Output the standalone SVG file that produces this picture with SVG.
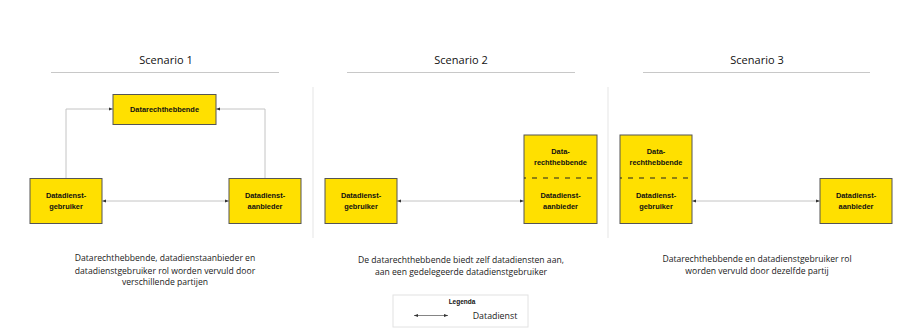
<svg xmlns="http://www.w3.org/2000/svg" width="914" height="330" viewBox="0 0 914 330">
<style>
.title{font-family:"Open Sans","Liberation Sans",sans-serif;font-size:11px;fill:#111;text-anchor:middle}
.cap{font-family:"Open Sans","Liberation Sans",sans-serif;font-size:8.6px;fill:#1a1a1a;text-anchor:middle}
.lbl{font-family:"Liberation Sans",Arial,sans-serif;font-size:7.4px;font-weight:bold;fill:#111;text-anchor:middle}
.box{fill:#FFE000;stroke:#555;stroke-width:1}
.rule{stroke:#c8c8c8;stroke-width:1}
.sep{stroke:#eeeeee;stroke-width:1.5}
.con{fill:none;stroke:#c4c4c4;stroke-width:1}
.dash{stroke:#222;stroke-width:1.1;stroke-dasharray:5 6}
</style>
<defs>
<marker id="ah" markerUnits="userSpaceOnUse" markerWidth="4" markerHeight="4" refX="4" refY="2" orient="auto-start-reverse">
<path d="M0,0.5 L4,2 L0,3.5 z" fill="#333"/>
</marker>
</defs>
<rect width="914" height="330" fill="#fff"/>

<g id="headers">
<text class="title" x="166" y="64">Scenario 1</text>
<line class="rule" x1="51" y1="72.5" x2="279" y2="72.5"/>
<text class="title" x="461" y="64">Scenario 2</text>
<line class="rule" x1="347" y1="72.5" x2="575" y2="72.5"/>
<text class="title" x="757" y="64">Scenario 3</text>
<line class="rule" x1="643" y1="72.5" x2="870" y2="72.5"/>
</g>

<g id="separators">
<line class="sep" x1="313" y1="87" x2="313" y2="238"/>
<line class="sep" x1="608" y1="87" x2="608" y2="238"/>
</g>

<g id="connectors">
<polyline class="con" points="66,178 66,109 113,109" marker-end="url(#ah)"/>
<polyline class="con" points="265,178 265,109 216,109" marker-end="url(#ah)"/>
<line class="con" x1="102" y1="201" x2="229" y2="201" marker-start="url(#ah)" marker-end="url(#ah)"/>
<line class="con" x1="397" y1="201" x2="524" y2="201" marker-start="url(#ah)" marker-end="url(#ah)"/>
<line class="con" x1="692" y1="201" x2="820" y2="201" marker-start="url(#ah)" marker-end="url(#ah)"/>
</g>

<g id="s1-datarechthebbende">
<rect class="box" x="113" y="94.5" width="103" height="30"/>
<text class="lbl" x="164.5" y="112">Datarechthebbende</text>
</g>
<g id="s1-gebruiker">
<rect class="box" x="30" y="178.5" width="72" height="45"/>
<text class="lbl" x="66" y="197.5">Datadienst-</text>
<text class="lbl" x="66" y="208.5">gebruiker</text>
</g>
<g id="s1-aanbieder">
<rect class="box" x="229" y="178.5" width="72" height="45"/>
<text class="lbl" x="265" y="197.5">Datadienst-</text>
<text class="lbl" x="265" y="208.5">aanbieder</text>
</g>

<g id="s2-gebruiker">
<rect class="box" x="325" y="178.5" width="72" height="45"/>
<text class="lbl" x="361" y="197.5">Datadienst-</text>
<text class="lbl" x="361" y="208.5">gebruiker</text>
</g>
<g id="s2-rechthebbende-aanbieder">
<rect class="box" x="524" y="135" width="73" height="88.5"/>
<line class="dash" x1="524" y1="178" x2="597" y2="178" stroke-dashoffset="3"/>
<text class="lbl" x="560.5" y="154">Data-</text>
<text class="lbl" x="560.5" y="165">rechthebbende</text>
<text class="lbl" x="560.5" y="197.5">Datadienst-</text>
<text class="lbl" x="560.5" y="208.5">aanbieder</text>
</g>

<g id="s3-rechthebbende-gebruiker">
<rect class="box" x="620" y="135" width="72" height="88.5"/>
<line class="dash" x1="620" y1="178" x2="692" y2="178" stroke-dashoffset="3"/>
<text class="lbl" x="656" y="154">Data-</text>
<text class="lbl" x="656" y="165">rechthebbende</text>
<text class="lbl" x="656" y="197.5">Datadienst-</text>
<text class="lbl" x="656" y="208.5">gebruiker</text>
</g>
<g id="s3-aanbieder">
<rect class="box" x="820" y="178.5" width="72" height="45"/>
<text class="lbl" x="856" y="197.5">Datadienst-</text>
<text class="lbl" x="856" y="208.5">aanbieder</text>
</g>

<g id="captions">
<text class="cap" x="165" y="261">Datarechthebbende, datadienstaanbieder en</text>
<text class="cap" x="165" y="273.5">datadienstgebruiker rol worden vervuld door</text>
<text class="cap" x="165" y="285">verschillende partijen</text>
<text class="cap" x="461" y="262.5">De datarechthebbende biedt zelf datadiensten aan,</text>
<text class="cap" x="461" y="274.5">aan een gedelegeerde datadienstgebruiker</text>
<text class="cap" x="757" y="262">Datarechthebbende en datadienstgebruiker rol</text>
<text class="cap" x="757" y="274">worden vervuld door dezelfde partij</text>
</g>

<g id="legend">
<rect x="393" y="295" width="135" height="32" fill="#fff" stroke="#e2e2e2" stroke-width="1"/>
<text x="462" y="304" font-family="Liberation Sans,Arial,sans-serif" font-size="6.5" font-weight="bold" text-anchor="middle" fill="#111">Legenda</text>
<line x1="414" y1="315.5" x2="448" y2="315.5" stroke="#666" stroke-width="0.8" marker-start="url(#ah)" marker-end="url(#ah)"/>
<text x="495" y="318.5" font-family="Open Sans,Liberation Sans,sans-serif" font-size="8.8" text-anchor="middle" fill="#222">Datadienst</text>
</g>
</svg>
